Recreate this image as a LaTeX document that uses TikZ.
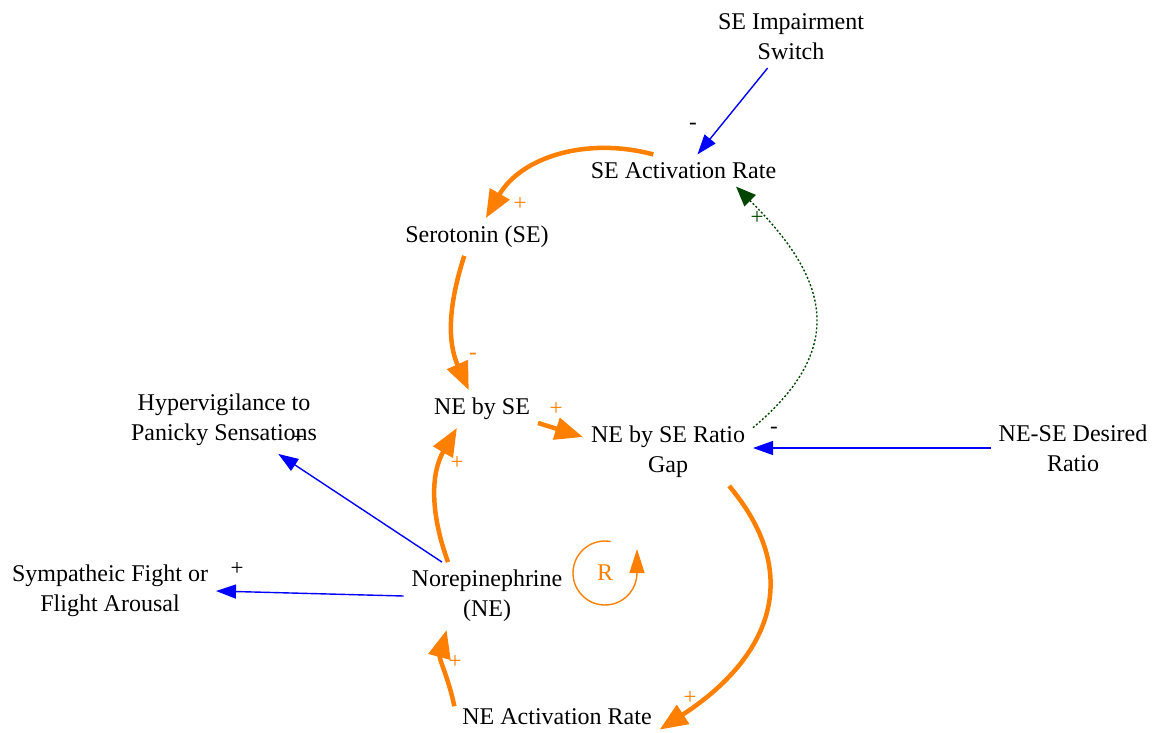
\documentclass[tikz,border=0pt]{standalone}
\usepackage{fontspec}
\setmainfont{Liberation Serif}
\usetikzlibrary{arrows.meta}
\definecolor{vorange}{RGB}{255,128,0}
\definecolor{vblue}{RGB}{0,0,255}
\definecolor{vgreen}{RGB}{0,70,0}

\begin{document}
\begin{tikzpicture}
  [x=1pt,y=-1pt,
   every node/.style={align=center,inner sep=8pt,outer sep=0pt,font=\fontsize{24}{30}\selectfont},
   sign/.style={inner sep=0pt,font=\fontsize{23}{23}\selectfont},
   fatlink/.style={vorange,line width=4.5pt,-{Triangle[length=28pt,width=22pt]}},
   thinlink/.style={vblue,line width=1.4pt,-{Triangle[length=20pt,width=14pt]}},
   dotlink/.style={vgreen,line width=1.4pt,dash pattern=on 2pt off 2pt,-{Triangle[length=20pt,width=16pt]}},
   looparrow/.style={vorange,line width=1.4pt,-{Triangle[length=24pt,width=15pt]}}]

  \useasboundingbox (0,0) rectangle (1158,732);

  %%%%%%%%%%%%%%%%%%%%%% VARIABLES %%%%%%%%%%%%%%%%%%%%%%

  \node (se_switch) at (791,37)      {SE Impairment\\Switch};
  \node (se_rate) at (683.5,170.5)   {SE Activation Rate};
  \node (serotonin) at (477,237)     {Serotonin (SE)};
  \node (ne_by_se) at (482,409)      {NE by SE};
  \node (ratio_gap) at (668,452)     {NE by SE Ratio\\Gap};
  \node (desired_ratio) at (1073,448) {NE-SE Desired\\Ratio};
  \node (hyper) at (224,420)         {Hypervigilance to\\Panicky Sensations};
  \node (sympa) at (110,591)         {Sympatheic Fight or\\Flight Arousal};
  \node (norepi) at (487,596)        {Norepinephrine\\(NE)};
  \node (ne_rate) at (557,717)       {NE Activation Rate};

  %%%%%%%%%%%%%%%%%%%%%% LINKS %%%%%%%%%%%%%%%%%%%%%%

  \draw[thinlink] (se_switch.-127) -- (se_rate.49);
  \draw[fatlink]  (se_rate.152) to[out=165,in=60] (serotonin.65);
  \draw[fatlink]  (serotonin.-124) to[out=-108,in=114] (ne_by_se.125);
  \draw[fatlink]  (ne_by_se.-14) -- (ratio_gap.170);
  \draw[thinlink] (desired_ratio.west) -- (desired_ratio.west -| ratio_gap.east);
  \draw[dotlink]  (ratio_gap.16) to[out=40,in=-45,looseness=1.35] (se_rate.-17);
  \draw[fatlink]  (ratio_gap.-29) to[out=-50,in=33,looseness=1.25] (ne_rate.-7);
  \draw[fatlink]  (ne_rate.174) to[out=102,in=-105] (norepi.-140);
  \draw[fatlink]  (norepi.139) to[out=110,in=-120] (ne_by_se.-143);
  \draw[thinlink] (norepi.143) -- (hyper.-32);
  \draw[thinlink] (norepi.west) -- (sympa.east);

  %% polarity signs
  \node[sign] (sg_1) at (693,126)            {-};
  \node[sign,vorange] (sg_2) at (520,204)    {+};
  \node[sign,vorange] (sg_3) at (473,356)    {-};
  \node[sign,vorange] (sg_4) at (556,409)    {+};
  \node[sign] (sg_5) at (774,430)            {-};
  \node[sign,vgreen] (sg_6) at (757,218)     {+};
  \node[sign,vorange] (sg_7) at (690,698)    {+};
  \node[sign,vorange] (sg_8) at (455,662)    {+};
  \node[sign,vorange] (sg_9) at (457,463)    {+};
  \node[sign] (sg_10) at (298,438)           {+};
  \node[sign] (sg_11) at (237,569)           {+};

  %% loop marker
  \node[inner sep=0pt,vorange,font=\fontsize{24}{24}\selectfont] (loop_r) at (605,573) {R};
  \draw[looparrow] ([shift={(80:32pt)}]loop_r.center) arc[start angle=80,end angle=360,radius=32pt] -- ++(0,-24);

\end{tikzpicture}
\end{document}
